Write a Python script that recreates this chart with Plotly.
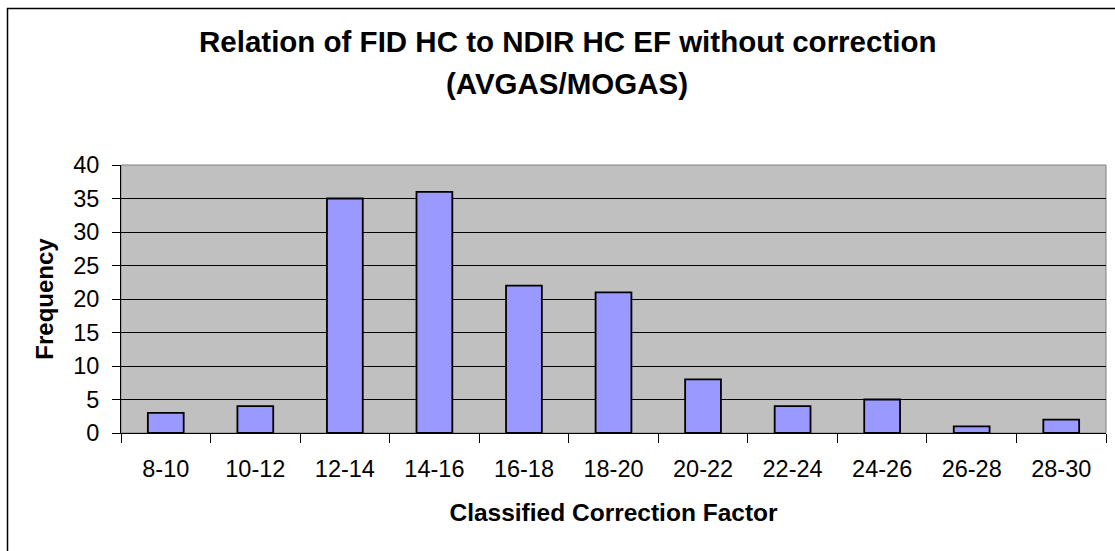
import plotly.graph_objects as go

# histogram classes and counts
classes = ["8-10", "10-12", "12-14", "14-16", "16-18", "18-20",
           "20-22", "22-24", "24-26", "26-28", "28-30"]
frequency = [3, 4, 35, 36, 22, 21, 8, 4, 5, 1, 2]

title_lines = ["Relation of FID HC to NDIR HC EF without correction", "(AVGAS/MOGAS)"]
x_title = "Classified Correction Factor"
y_title = "Frequency"

W, H = 1115, 551
L, R, T, B = 121, 9, 165, 118
pw, ph = W - L - R, H - T - B


def px_x(x):
    return (x - L) / pw


def px_y(y):
    return (H - B - y) / ph


FONT = "Liberation Sans, Arial, sans-serif"

fig = go.Figure()
fig.add_trace(go.Bar(
    x=classes, y=frequency,
    marker=dict(color="#9999FF", line=dict(color="black", width=1.8)),
    width=0.4, showlegend=False,
))

fig.update_layout(
    width=W, height=H,
    margin=dict(l=L, r=R, t=T, b=B),
    paper_bgcolor="white", plot_bgcolor="#C0C0C0",
    font=dict(family=FONT, color="black", size=23),
    bargap=0.6,
)

fig.update_xaxes(
    type="category", tickson="boundaries", ticks="outside", ticklen=9,
    tickcolor="black", tickwidth=1, showgrid=False,
    showline=True, linecolor="black", linewidth=1,
    tickfont=dict(size=23.5), ticklabelstandoff=15,
    title=dict(text="<b>%s</b>" % x_title, font=dict(size=24.5), standoff=22),
)
fig.update_yaxes(
    range=[0, 40], dtick=5, ticks="outside", ticklen=8,
    tickcolor="black", tickwidth=1,
    showgrid=True, gridcolor="black", gridwidth=1, zeroline=False,
    showline=True, linecolor="black", linewidth=1,
    tickfont=dict(size=23.5), ticklabelstandoff=8,
    title=dict(text="<b>%s</b>" % y_title, font=dict(size=24), standoff=12),
)

# title as two lines, centred on the whole chart box rather than the plot
for line, yc in zip(title_lines, [41, 84]):
    fig.add_annotation(
        text="<b>%s</b>" % line, xref="paper", yref="paper",
        x=px_x(567), y=px_y(yc), xanchor="center", yanchor="middle",
        showarrow=False, font=dict(size=29.5, family=FONT),
    )

# thin grey frame around the plot area
fig.add_shape(type="rect", xref="paper", yref="paper", x0=0, x1=1, y0=0, y1=1,
              line=dict(color="#808080", width=1), layer="below")
# chart border (runs past the right and bottom edges)
fig.add_shape(type="rect", xref="paper", yref="paper",
              x0=px_x(7.5), x1=px_x(W + 10), y0=px_y(H + 10), y1=px_y(8.5),
              line=dict(color="black", width=1.5))

# page body has a default 8px margin; drop it so the figure sits at 0,0
fig.write_html("out.html", config={"displayModeBar": False},
               post_script="document.body.style.margin='0';")
